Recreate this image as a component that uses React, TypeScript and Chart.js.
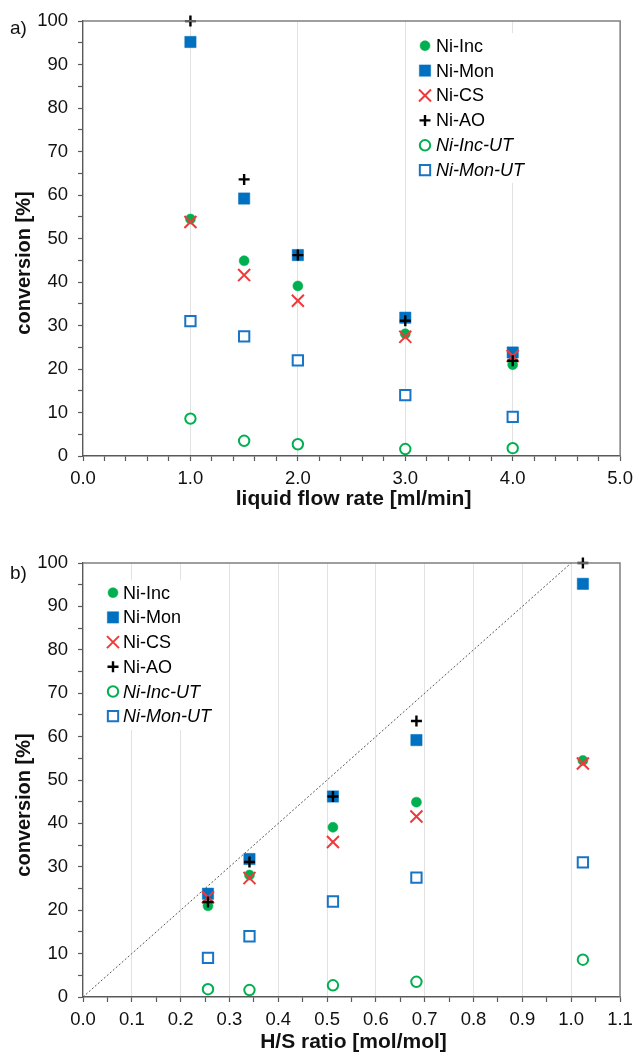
import React, { useEffect, useRef } from 'react';
import { Chart, registerables } from 'chart.js';

Chart.register(...registerables);

// ---------- data ----------
const seriesNames = ['Ni-Inc', 'Ni-Mon', 'Ni-CS', 'Ni-AO', 'Ni-Inc-UT', 'Ni-Mon-UT'];
const flowRates = [1.0, 1.5, 2.0, 3.0, 4.0];
const hsRatios = [1.024, 0.683, 0.512, 0.341, 0.256];
const niInc = [54.5, 44.9, 39.1, 28.1, 21.0];
const niMon = [95.2, 59.2, 46.2, 31.8, 23.8];
const niCS = [53.8, 41.6, 35.7, 27.4, 23.0];
const niAO = [100.0, 63.6, 46.2, 31.1, 21.9];
const niIncUT = [8.6, 3.5, 2.7, 1.6, 1.8];
const niMonUT = [31.0, 27.5, 22.0, 14.0, 9.0];
const seriesValues = [niInc, niMon, niCS, niAO, niIncUT, niMonUT];
const diagonalX = [0, 1];
const diagonalY = [0, 100];
const yTitle = 'conversion [%]';
const xTitleA = 'liquid flow rate [ml/min]';
const xTitleB = 'H/S ratio [mol/mol]';

// ---------- styles ----------
const GREEN = '#00B050';
const BLUE = '#0070C0';
const RED = '#F03A3A';
const FONT = '"Liberation Sans", Arial, sans-serif';

type Sty = { pointStyle: string; radius: number; bg: string; border: string; bw: number; italic: boolean };
const styles: Sty[] = [
  { pointStyle: 'circle', radius: 5, bg: GREEN, border: GREEN, bw: 0.5, italic: false },
  { pointStyle: 'rect', radius: 8, bg: BLUE, border: BLUE, bw: 0.5, italic: false },
  { pointStyle: 'crossRot', radius: 8.5, bg: RED, border: RED, bw: 2, italic: false },
  { pointStyle: 'cross', radius: 5.5, bg: '#000', border: '#000', bw: 2.4, italic: false },
  { pointStyle: 'circle', radius: 5.2, bg: '#fff', border: GREEN, bw: 2, italic: true },
  { pointStyle: 'rect', radius: 7.3, bg: '#fff', border: '#1874C4', bw: 2, italic: true },
];

function drawMarker(ctx: CanvasRenderingContext2D, s: Sty, x: number, y: number) {
  ctx.save();
  ctx.fillStyle = s.bg;
  ctx.strokeStyle = s.border;
  ctx.lineWidth = s.bw;
  ctx.beginPath();
  const r = s.radius;
  if (s.pointStyle === 'circle') {
    ctx.arc(x, y, r, 0, Math.PI * 2);
    ctx.fill();
    ctx.stroke();
  } else if (s.pointStyle === 'rect') {
    const h = r * Math.SQRT1_2;
    ctx.rect(x - h, y - h, 2 * h, 2 * h);
    ctx.fill();
    ctx.stroke();
  } else if (s.pointStyle === 'crossRot') {
    const h = r * Math.SQRT1_2;
    ctx.moveTo(x - h, y - h);
    ctx.lineTo(x + h, y + h);
    ctx.moveTo(x - h, y + h);
    ctx.lineTo(x + h, y - h);
    ctx.stroke();
  } else if (s.pointStyle === 'cross') {
    ctx.moveTo(x - r, y);
    ctx.lineTo(x + r, y);
    ctx.moveTo(x, y - r);
    ctx.lineTo(x, y + r);
    ctx.stroke();
  }
  ctx.restore();
}

const frameLegendPlugin = {
  id: 'frameLegend',
  afterDraw(chart: any, _args: any, opts: any) {
    const { ctx, chartArea: a } = chart;
    ctx.save();
    // top and right frame
    ctx.strokeStyle = '#7f7f7f';
    ctx.lineWidth = 1.5;
    ctx.beginPath();
    ctx.moveTo(a.left, a.top);
    ctx.lineTo(a.right, a.top);
    ctx.lineTo(a.right, a.bottom);
    ctx.stroke();
    // legend
    const { box, markerX, textX, rowY, rowGap } = opts;
    ctx.fillStyle = '#fff';
    ctx.fillRect(box[0], box[1], box[2], box[3]);
    seriesNames.forEach((name, i) => {
      const y = rowY + i * rowGap;
      drawMarker(ctx, styles[i], markerX, y);
      ctx.font = `${styles[i].italic ? 'italic ' : ''}18px ${FONT}`;
      ctx.fillStyle = '#000';
      ctx.textBaseline = 'middle';
      ctx.textAlign = 'left';
      ctx.fillText(name, textX, y + 1);
    });
    // axis titles
    ctx.fillStyle = '#111';
    ctx.textAlign = 'center';
    ctx.textBaseline = 'middle';
    ctx.font = `bold 21px ${FONT}`;
    ctx.fillText(opts.xTitle, (a.left + a.right) / 2 + 2, opts.xTitleY);
    ctx.font = `bold 20px ${FONT}`;
    ctx.translate(opts.yTitleX, opts.yTitleY);
    ctx.rotate(-Math.PI / 2);
    ctx.fillText(yTitle, 0, 0);
    ctx.restore();
  },
};

function makeDatasets(xs: number[]) {
  return seriesNames.map((name, i) => ({
    label: name,
    data: xs.map((x, j) => ({ x, y: seriesValues[i][j] })),
    pointStyle: styles[i].pointStyle,
    pointRadius: styles[i].radius,
    pointBackgroundColor: styles[i].bg,
    pointBorderColor: styles[i].border,
    pointBorderWidth: styles[i].bw,
    showLine: false,
    clip: false,
    order: 10 - i,
  }));
}

const TICK_COLOR = '#595959';

function buildConfig(opts: {
  xs: number[];
  xMax: number;
  xStep: number;
  labelEvery: number;
  gridEvery: number;
  height: number;
  padTop: number;
  padRight: number;
  areaBottom: number;
  legend: any;
  diagonal: boolean;
}) {
  const isMultiple = (v: number, m: number) => Math.abs(v / m - Math.round(v / m)) < 1e-6;
  const datasets: any[] = makeDatasets(opts.xs);
  if (opts.diagonal) {
    datasets.push({
      label: 'diag',
      data: diagonalX.map((x, j) => ({ x, y: diagonalY[j] })),
      showLine: true,
      borderColor: '#555',
      borderWidth: 1,
      borderDash: [2, 2],
      pointRadius: 0,
      clip: false,
      order: 20,
    });
  }
  return {
    type: 'scatter' as const,
    data: { datasets },
    plugins: [frameLegendPlugin],
    options: {
      animation: false,
      responsive: false,
      devicePixelRatio: 1,
      layout: { padding: { top: opts.padTop, right: opts.padRight, left: 0, bottom: 0 } },
      plugins: {
        legend: { display: false },
        tooltip: { enabled: false },
        frameLegend: opts.legend,
      },
      scales: {
        x: {
          type: 'linear',
          min: 0,
          max: opts.xMax,
          afterFit: (s: any) => {
            s.height = opts.height - opts.areaBottom;
          },
          ticks: {
            stepSize: opts.xStep,
            autoSkip: false,
            maxRotation: 0,
            padding: 7,
            color: '#111',
            font: { family: FONT, size: 18.5 },
            callback: (v: any) => (isMultiple(Number(v), opts.labelEvery) ? Number(v).toFixed(1) : ''),
          },
          grid: {
            drawOnChartArea: true,
            tickLength: 5,
            tickWidth: 1.2,
            tickColor: TICK_COLOR,
            lineWidth: 1,
            color: (c: any) => {
              const v = c.tick ? c.tick.value : -1;
              if (v <= 1e-6 || v >= opts.xMax - 1e-6) return 'rgba(0,0,0,0)';
              return isMultiple(v, opts.gridEvery) ? '#e2e2e2' : 'rgba(0,0,0,0)';
            },
          },
          border: { display: true, color: TICK_COLOR, width: 1.4 },
          title: { display: false },
        },
        y: {
          type: 'linear',
          min: 0,
          max: 100,
          afterFit: (s: any) => {
            s.width = 83;
          },
          ticks: {
            stepSize: 5,
            autoSkip: false,
            padding: 10,
            color: '#111',
            font: { family: FONT, size: 18.5 },
            callback: (v: any) => (isMultiple(Number(v), 10) ? String(v) : ''),
          },
          grid: {
            drawOnChartArea: false,
            tickLength: 5,
            tickWidth: 1.2,
            tickColor: TICK_COLOR,
            color: 'rgba(0,0,0,0)',
          },
          border: { display: true, color: TICK_COLOR, width: 1.4 },
          title: { display: false },
        },
      },
    },
  };
}

function ChartCanvas({ config, width, height }: { config: any; width: number; height: number }) {
  const ref = useRef<HTMLCanvasElement | null>(null);
  useEffect(() => {
    if (!ref.current) return;
    const chart = new Chart(ref.current, config);
    return () => chart.destroy();
  }, [config]);
  return <canvas ref={ref} width={width} height={height} style={{ display: 'block', width, height }} />;
}

const H_A = 510;
const H_B = 543;

const configA = buildConfig({
  xs: flowRates,
  xMax: 5,
  xStep: 0.2,
  labelEvery: 1,
  gridEvery: 1,
  height: H_A,
  padTop: 19,
  padRight: 14,
  areaBottom: 456,
  legend: {
    box: [418, 33, 125, 150], markerX: 425, textX: 436, rowY: 45.7, rowGap: 24.9,
    xTitle: xTitleA, xTitleY: 499, yTitleX: 24, yTitleY: 263,
  },
  diagonal: false,
});

const configB = buildConfig({
  xs: hsRatios,
  xMax: 1.1,
  xStep: 0.05,
  labelEvery: 0.1,
  gridEvery: 0.1,
  height: H_B,
  padTop: 53,
  padRight: 20,
  areaBottom: 487,
  legend: {
    box: [100, 70, 122, 150], markerX: 113, textX: 123, rowY: 82.7, rowGap: 24.7,
    xTitle: xTitleB, xTitleY: 532, yTitleX: 24, yTitleY: 295,
  },
  diagonal: true,
});

export default function App() {
  const label: React.CSSProperties = {
    position: 'absolute',
    left: 10,
    fontFamily: FONT,
    fontSize: 19,
    lineHeight: '19px',
    color: '#111',
  };
  return (
    <div style={{ position: 'absolute', left: 0, top: 0, width: 640, height: 1053, background: '#fff', overflow: 'hidden' }}>
      <div style={{ position: 'absolute', left: 0, top: 0 }}>
        <ChartCanvas config={configA} width={640} height={H_A} />
      </div>
      <div style={{ position: 'absolute', left: 0, top: H_A }}>
        <ChartCanvas config={configB} width={640} height={H_B} />
      </div>
      <div style={{ ...label, top: 18 }}>a)</div>
      <div style={{ ...label, top: 563 }}>b)</div>
    </div>
  );
}
